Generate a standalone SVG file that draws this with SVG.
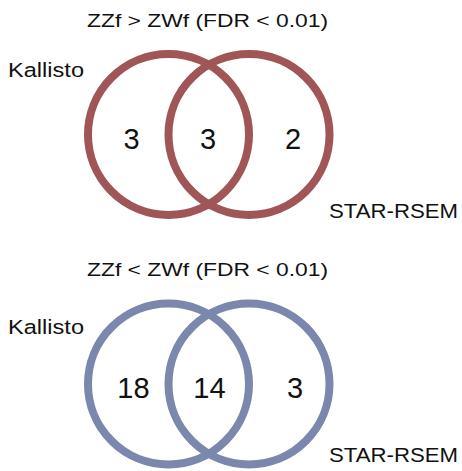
<svg xmlns="http://www.w3.org/2000/svg" width="462" height="471" viewBox="0 0 462 471">
<style>
text{font-family:"Liberation Sans",Arial,sans-serif;fill:#111}
.t{font-size:19px}
.l{font-size:20.5px}
.n{font-size:29px;text-anchor:middle}
.r{fill:none;stroke:#a05656;stroke-width:8}
.b{fill:none;stroke:#7b87ac;stroke-width:8}
</style>
<rect width="462" height="471" fill="#fff"/>
<g id="top">
<text class="t" x="87" y="26.5" textLength="241" lengthAdjust="spacingAndGlyphs">ZZf &gt; ZWf (FDR &lt; 0.01)</text>
<g id="top-kallisto"><circle class="r" cx="168.5" cy="134.5" r="80.5"/><text class="l" x="8" y="77" textLength="76" lengthAdjust="spacingAndGlyphs">Kallisto</text></g>
<g id="top-star"><circle class="r" cx="249" cy="134.5" r="80.5"/><text class="l" x="329" y="217.5" textLength="129" lengthAdjust="spacingAndGlyphs">STAR-RSEM</text></g>
<text class="n" x="131.5" y="149">3</text>
<text class="n" x="208" y="149">3</text>
<text class="n" x="293" y="149">2</text>
</g>
<g id="bottom">
<text class="t" x="87" y="275.5" textLength="241" lengthAdjust="spacingAndGlyphs">ZZf &lt; ZWf (FDR &lt; 0.01)</text>
<g id="bot-kallisto"><circle class="b" cx="168.5" cy="384" r="80.5"/><text class="l" x="8" y="334" textLength="76" lengthAdjust="spacingAndGlyphs">Kallisto</text></g>
<g id="bot-star"><circle class="b" cx="249" cy="384" r="80.5"/><text class="l" x="329" y="461.5" textLength="129" lengthAdjust="spacingAndGlyphs">STAR-RSEM</text></g>
<text class="n" x="133.5" y="398">18</text>
<text class="n" x="209.5" y="398">14</text>
<text class="n" x="295" y="398">3</text>
</g>
<g id="connectors"/>
</svg>
